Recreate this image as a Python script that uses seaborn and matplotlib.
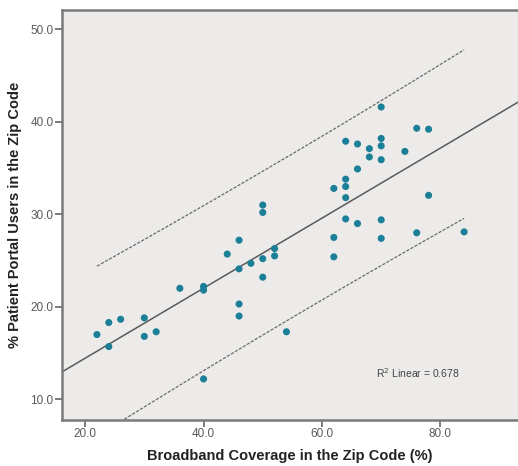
import numpy as np
import pandas as pd
import matplotlib
matplotlib.use("Agg")
import matplotlib.pyplot as plt
import seaborn as sns

broadband = [22, 24, 24, 26, 30, 30, 32, 36, 40, 40, 40, 44, 46, 46, 46, 46, 48,
             50, 50, 50, 50, 52, 52, 54, 62, 62, 62, 64, 64, 64, 64, 64, 66, 66, 66,
             68, 68, 70, 70, 70, 70, 70, 70, 74, 76, 76, 78, 78, 84]
portal = [17.0, 18.3, 15.7, 18.65, 18.8, 16.8, 17.3, 22.0, 22.2, 21.8, 12.2, 25.7,
          27.2, 24.1, 20.3, 19.0, 24.7, 31.0, 30.2, 25.2, 23.2, 26.3, 25.5, 17.3,
          32.8, 27.5, 25.4, 37.9, 33.8, 33.0, 31.8, 29.5, 37.6, 34.9, 29.0, 37.1,
          36.2, 41.6, 38.2, 37.4, 35.9, 29.4, 27.4, 36.8, 39.3, 28.0, 39.2, 32.05, 28.1]
x_ticks = [20.0, 40.0, 60.0, 80.0]
y_ticks = [10.0, 20.0, 30.0, 40.0, 50.0]
r2_label = "R$^2$ Linear = 0.678"
x_label = "Broadband Coverage in the Zip Code (%)"
y_label = "% Patient Portal Users in the Zip Code"

df = pd.DataFrame({"broadband": broadband, "portal": portal})

sns.set_style("white")
plt.rcParams["font.family"] = ["Liberation Sans", "DejaVu Sans"]

fig = plt.figure(figsize=(5.18, 4.66), dpi=100)
ax = fig.add_axes([0.1197, 0.0987, 1.0 - 0.1197, 0.9796 - 0.0987])
ax.set_facecolor("#ECEBE9")
ax.set_xlim(16.1, 93.1)
ax.set_ylim(7.76, 52.14)

point_color = "#1B7F98"
sns.regplot(data=df, x="broadband", y="portal", ax=ax, ci=None, truncate=False,
            scatter_kws=dict(s=26, color=point_color, edgecolor="none", alpha=1, zorder=3),
            line_kws=dict(color="#5A5A5A", lw=1.1, zorder=2))

# 95% prediction interval for individual values
xa = np.asarray(broadband, float)
ya = np.asarray(portal, float)
n = len(xa)
b1, b0 = np.polyfit(xa, ya, 1)
resid = ya - (b0 + b1 * xa)
s = np.sqrt(np.sum(resid ** 2) / (n - 2))
tval = 2.012
xg = np.linspace(xa.min(), xa.max(), 200)
se = s * np.sqrt(1 + 1 / n + (xg - xa.mean()) ** 2 / np.sum((xa - xa.mean()) ** 2))
yfit = b0 + b1 * xg
for sign in (1, -1):
    ax.plot(xg, yfit + sign * tval * se, color="#6A6A6A", lw=0.9, ls=(0, (2.5, 1.2)), zorder=2)

ax.text(0.689, 0.1145, r2_label, transform=ax.transAxes, fontsize=7.5, color="#444444",
        ha="left", va="center")

ax.set_xticks(x_ticks)
ax.set_yticks(y_ticks)
ax.set_xticklabels([f"{v:.1f}" for v in x_ticks])
ax.set_yticklabels([f"{v:.1f}" for v in y_ticks])
ax.tick_params(axis="both", direction="out", length=5, width=1.2, color="#666666",
               labelsize=8.5, labelcolor="#5A5A5A", pad=1)
ax.tick_params(left=True, bottom=True)

for side in ("left", "bottom", "top"):
    ax.spines[side].set_visible(True)
    ax.spines[side].set_color("#7A7A7A")
    ax.spines[side].set_linewidth(1.8)
ax.spines["right"].set_visible(False)

ax.set_xlabel(x_label, fontsize=10.5, fontweight="bold", color="#222222", labelpad=6)
ax.set_ylabel(y_label, fontsize=10.5, fontweight="bold", color="#222222", labelpad=6)

fig.savefig("out.png", dpi=100, facecolor="white")
